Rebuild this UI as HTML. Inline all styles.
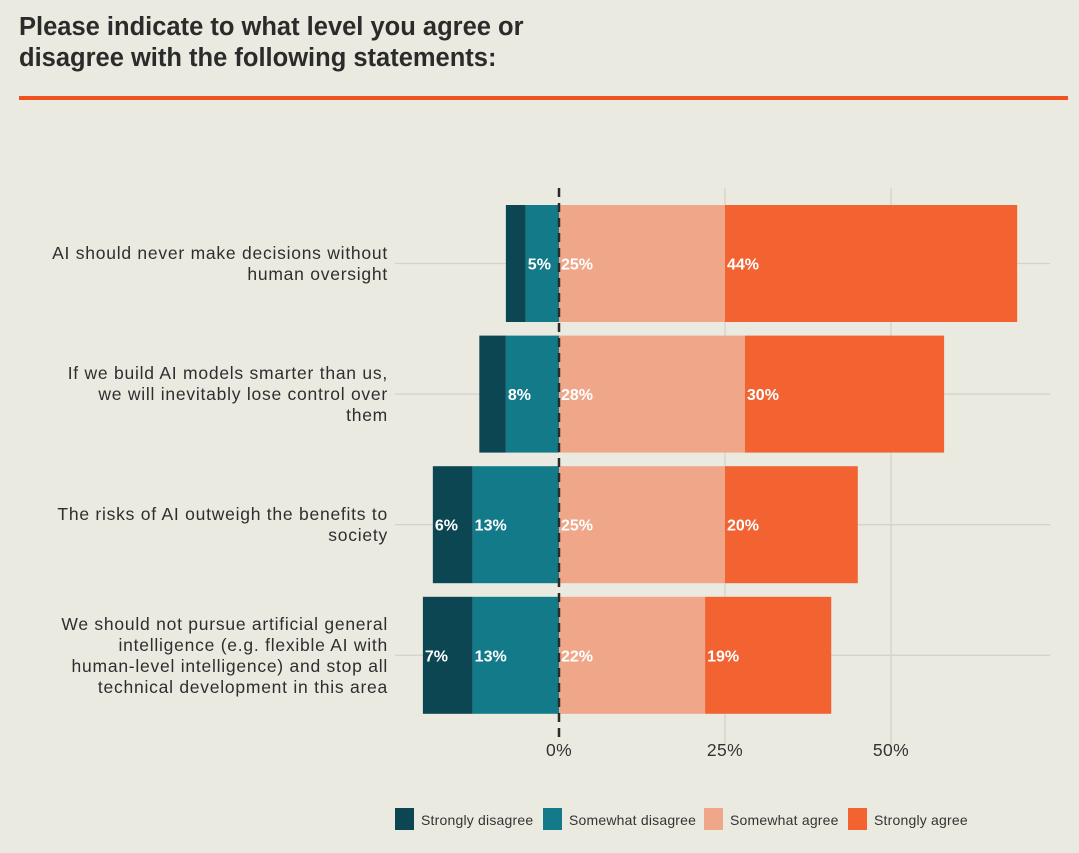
<!DOCTYPE html>
<html><head><meta charset="utf-8">
<style>
body{margin:0;background:#ebeae1;font-family:"Liberation Sans",sans-serif;}
#wrap{position:relative;width:1079px;height:853px;overflow:hidden;background:#ebeae1;}
h1{position:absolute;left:19px;top:12px;margin:0;font-size:25.5px;line-height:31px;font-weight:bold;color:#2b2b2b;}
#rule{position:absolute;left:19px;top:96px;width:1049px;height:4px;background:#f0521f;}
</style></head><body>
<div id="wrap">
<h1>Please indicate to what level you agree or<br>disagree with the following statements:</h1>
<div id="rule"></div>
<svg id="chart" width="1079" height="853" style="position:absolute;left:0;top:0"></svg>
</div>
<script>
const categories=[["AI should never make decisions without","human oversight"],["If we build AI models smarter than us,","we will inevitably lose control over","them"],["The risks of AI outweigh the benefits to","society"],["We should not pursue artificial general","intelligence (e.g. flexible AI with","human-level intelligence) and stop all","technical development in this area"]];
const stronglyDisagree=[3,4,6,7.5];
const somewhatDisagree=[5,8,13,13];
const somewhatAgree=[25,28,25,22];
const stronglyAgree=[44,30,20,19];
const sdLabels=["","","6%","7%"];
const mdLabels=["5%","8%","13%","13%"];
const maLabels=["25%","28%","25%","22%"];
const saLabels=["44%","30%","20%","19%"];
const ticks=[0,25,50];
const tickLabels=["0%","25%","50%"];
const legendNames=["Strongly disagree","Somewhat disagree","Somewhat agree","Strongly agree"];
const colors=["#0b4652","#137a8a","#efa689","#f26331"];

const NS="http://www.w3.org/2000/svg";
const svg=document.getElementById('chart');
const x=v=>559+v*6.64;
const yc=i=>263.5+i*130.6;
const bh=117;
function mk(t,a,p){const e=document.createElementNS(NS,t);for(const k in a)e.setAttribute(k,a[k]);(p||svg).appendChild(e);return e;}
ticks.forEach((t,i)=>{
  if(t!==0){const g=mk('line',{x1:x(t),x2:x(t),y1:188,y2:745,stroke:'#d3d2cb','stroke-width':1.3});
  
  }
  const tl=mk('text',{x:x(t),y:756,'text-anchor':'middle','font-size':17.5,'letter-spacing':0.4,fill:'#333'});
  tl.textContent=tickLabels[i];
  
  
});
categories.forEach((c,i)=>{
  const g=mk('line',{x1:395,x2:1050,y1:yc(i),y2:yc(i),stroke:'#d3d2cb','stroke-width':1.3});
  
  
  const n=c.length, y0=yc(i)-(n-1)*10.5+6;
  c.forEach((ln,j)=>{
    const t=mk('text',{x:388,y:y0+j*21,'text-anchor':'end','font-size':17.5,'letter-spacing':0.75,fill:'#2e2e2e'});
    t.textContent=ln;
    
    
  });
  const segs=[
    [-(stronglyDisagree[i]+somewhatDisagree[i]),stronglyDisagree[i],colors[0],sdLabels[i],'bar-strongly-disagree'],
    [-somewhatDisagree[i],somewhatDisagree[i],colors[1],mdLabels[i],'bar-somewhat-disagree'],
    [0,somewhatAgree[i],colors[2],maLabels[i],'bar-somewhat-agree'],
    [somewhatAgree[i],stronglyAgree[i],colors[3],saLabels[i],'bar-strongly-agree']];
  segs.forEach(s=>{
    const r=mk('rect',{x:x(s[0]),y:yc(i)-bh/2,width:s[1]*6.64,height:bh,fill:s[2]});
    
    
    if(s[3]){const t=mk('text',{x:x(s[0])+2,y:yc(i)+6,'font-size':16,'font-weight':'bold',fill:'#fff'});
      t.textContent=s[3];
      
      }
  });
});
const z=mk('line',{x1:x(0),x2:x(0),y1:188,y2:740,stroke:'#2b2b2b','stroke-width':2.5,'stroke-dasharray':'9,6'});


const lx=[395,543,704,848];
legendNames.forEach((n,i)=>{
  const g=mk('g',{});
  
  
  mk('rect',{x:lx[i],y:808,width:19,height:22,fill:colors[i]},g);
  const t=mk('text',{x:lx[i]+26,y:825,'font-size':14,'letter-spacing':0.2,fill:'#333'},g);
  t.textContent=n;
});
</script>
</body></html>
